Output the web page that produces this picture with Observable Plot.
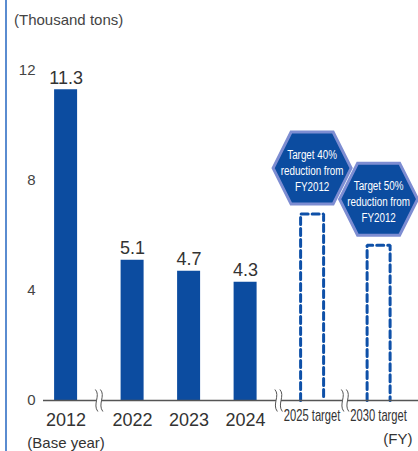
<!DOCTYPE html>
<html>
<head>
<meta charset="utf-8">
<script src="https://cdn.jsdelivr.net/npm/d3@7"></script>
<script src="https://cdn.jsdelivr.net/npm/@observablehq/plot@0.6"></script>
<style>
  html, body { margin: 0; padding: 0; background: #fff; }
  #wrap { position: relative; width: 418px; height: 451px; overflow: hidden; font-family: "Liberation Sans", Arial, sans-serif; }
  #edge { position: absolute; left: 5px; top: 0; width: 2px; height: 451px; background: #5a8cd0; }
  #title { height: 40px; box-sizing: border-box; padding: 11px 0 0 14px; font-size: 15px; color: #444; line-height: 17px; }
  svg { display: block; }
</style>
</head>
<body>
<div id="wrap"><div id="edge"></div><div id="title"></div><div id="chart"></div></div>
<script>
// ---- data ----
const unitLabel = "(Thousand tons)";
const categories = ["2012", "2022", "2023", "2024", "2025 target", "2030 target"];
const actualCategories = ["2012", "2022", "2023", "2024"];
const actualValues = [11.3, 5.1, 4.7, 4.3];
const actualLabels = ["11.3", "5.1", "4.7", "4.3"];
const targetCategories = ["2025 target", "2030 target"];
const targetValues = [6.78, 5.65];
const targetNotes = ["Target 40%\nreduction from\nFY2012", "Target 50%\nreduction from\nFY2012"];
const breaksAfter = ["2012", "2024", "2025 target"];
const yTicks = [0, 4, 8, 12];
const baseNote = "(Base year)";
const axisNote = "(FY)";

// ---- layout ----
const BLUE = "#0c4ca0";
const BREAK_GAP = 0.177;
const HALF_W = 0.2035;
const narrowLabel = "'Liberation Sans Narrow', 'Liberation Sans', Arial, sans-serif";
const narrowNote = "'Liberation Sans Narrow', Arial, 'Liberation Sans', sans-serif";

document.getElementById("title").textContent = unitLabel;

const slot = {};
let k = 0;
categories.forEach((c, i) => { slot[c] = i + k * BREAK_GAP; if (breaksAfter.includes(c)) k++; });
const breakPos = breaksAfter.map(c => {
  const next = categories[categories.indexOf(c) + 1];
  return (slot[c] + slot[next]) / 2;
});

const actual = actualCategories.map((c, i) => ({c, v: actualValues[i], label: actualLabels[i]}));
const targets = targetCategories.map((c, i) => ({c, v: targetValues[i], note: targetNotes[i]}));
const outline = targets.flatMap(t => [
  {c: t.c, x: slot[t.c] - HALF_W, y: 0},
  {c: t.c, x: slot[t.c] - HALF_W, y: t.v},
  {c: t.c, x: slot[t.c] + HALF_W, y: t.v},
  {c: t.c, x: slot[t.c] + HALF_W, y: 0}
]);

const hexSymbol = {draw(ctx) {
  ctx.moveTo(-39, 0); ctx.lineTo(-21, -36); ctx.lineTo(21, -36);
  ctx.lineTo(39, 0); ctx.lineTo(21, 36); ctx.lineTo(-21, 36); ctx.closePath();
}};
const wave = (ctx, ox) => {
  ctx.moveTo(ox - 1.5, -11);
  ctx.bezierCurveTo(ox + 4, -5, ox - 4.5, 4, ox + 1, 11);
};
const breakLineSymbol = {draw(ctx) { wave(ctx, -2.5); wave(ctx, 2.5); }};
const breakFillSymbol = {draw(ctx) {
  ctx.moveTo(-4, -11);
  ctx.bezierCurveTo(1.5, -5, -7, 4, -1.5, 11);
  ctx.lineTo(3.5, 11);
  ctx.bezierCurveTo(-2, 4, 6.5, -5, 1, -11);
  ctx.closePath();
}};

const chart = Plot.plot({
  width: 418,
  height: 411,
  marginTop: 30,
  marginBottom: 51,
  marginLeft: 43,
  marginRight: 0,
  x: {domain: [0, slot["2030 target"]], range: [65.6, 378.1], axis: null},
  y: {domain: [0, 12], axis: null},
  style: {fontFamily: "'Liberation Sans', Arial, sans-serif", background: "transparent", overflow: "visible"},
  marks: [
    Plot.axisY(yTicks, {tickSize: 0, tickPadding: 8, fontSize: 15, color: "#444", label: null}),
    Plot.rectY(actual, {x1: d => slot[d.c] - HALF_W, x2: d => slot[d.c] + HALF_W, y1: 0, y2: "v", fill: BLUE}),
    Plot.line(outline, {x: "x", y: "y", z: "c", stroke: "#0e50a8", strokeWidth: 3, strokeDasharray: "7,4", strokeLinejoin: "miter"}),
    Plot.ruleY([0], {stroke: "#555", strokeWidth: 1.5}),
    Plot.dot(breakPos, {x: d => d, y: 0, r: 10, symbol: breakFillSymbol, fill: "white", stroke: "none"}),
    Plot.dot(breakPos, {x: d => d, y: 0, r: 10, symbol: breakLineSymbol, fill: "none", stroke: "#555", strokeWidth: 1}),
    Plot.text(actual, {x: d => slot[d.c], y: "v", text: "label", dy: -12, fontSize: 18, fill: "#333"}),
    Plot.dot(targets, {x: d => slot[d.c], y: "v", dy: -46, r: 40, symbol: hexSymbol, fill: BLUE, stroke: "#7d8dd2", strokeWidth: 3}),
    Plot.text(targets, {x: d => slot[d.c], y: "v", text: "note", dy: -44, fontSize: 13.5, lineHeight: 1.17, fill: "white", fontFamily: narrowNote}),
    Plot.text(actualCategories, {x: d => slot[d], y: 0, text: d => d, dy: 20, fontSize: 18, fill: "#333"}),
    Plot.text(targetCategories, {x: d => slot[d], y: 0, text: d => d, dy: 20, fontSize: 16, fill: "#333", fontFamily: narrowLabel}),
    Plot.text([baseNote], {x: slot["2012"], y: 0, text: d => d, dy: 43, fontSize: 15, fill: "#333"}),
    Plot.text([axisNote], {frameAnchor: "bottom-right", text: d => d, dx: -6, dy: 43, textAnchor: "end", fontSize: 15, fill: "#333"})
  ]
});
document.getElementById("chart").appendChild(chart);

// Horizontally condense the narrow-styled texts (no condensed face is installed).
function condense(selector, factor) {
  chart.querySelectorAll(selector).forEach(el => {
    const tr = el.getAttribute("transform") || "";
    const x = +el.getAttribute("x") || 0, y = +el.getAttribute("y") || 0;
    el.removeAttribute("x"); el.removeAttribute("y");
    el.setAttribute("transform", `${tr} translate(${x},${y}) scale(${factor},1)`);
  });
}
condense(`g[font-family="${narrowLabel}"] text`, 0.7);
condense(`g[font-family="${narrowNote}"] text`, 0.73);
</script>
</body>
</html>
